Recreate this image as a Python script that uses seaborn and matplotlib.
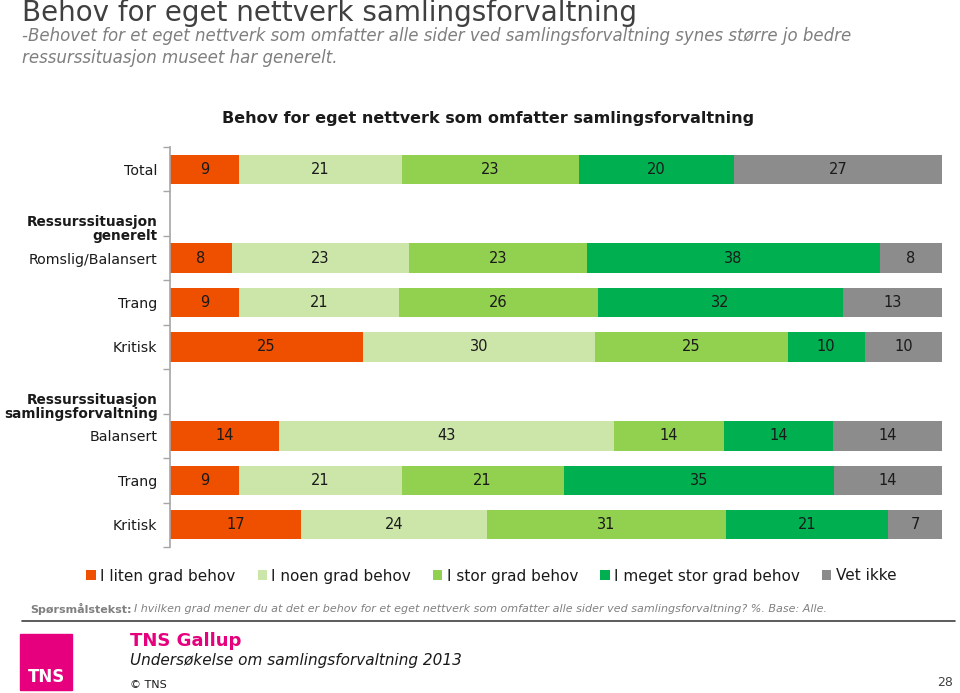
import numpy as np
import pandas as pd
import matplotlib
matplotlib.use("Agg")
import matplotlib.pyplot as plt
import seaborn as sns
from matplotlib.patches import Patch, Rectangle
from matplotlib.transforms import blended_transform_factory

# data
row_labels = ["Total", "", "Romslig/Balansert", "Trang", "Kritisk", "", "Balansert", "Trang", "Kritisk"]
series_names = ["I liten grad behov", "I noen grad behov", "I stor grad behov",
                "I meget stor grad behov", "Vet ikke"]
liten = [9, 0, 8, 9, 25, 0, 14, 9, 17]
noen = [21, 0, 23, 21, 30, 0, 43, 21, 24]
stor = [23, 0, 23, 26, 25, 0, 14, 21, 31]
meget = [20, 0, 38, 32, 10, 0, 14, 35, 21]
vet_ikke = [27, 0, 8, 13, 10, 0, 14, 14, 7]
colors = ["#EE5000", "#CCE6AA", "#92D050", "#00B050", "#8C8C8C"]

sns.set_style("white")
plt.rcParams['font.family'] = ['DejaVu Sans']

vals = np.array([liten, noen, stor, meget, vet_ikke], dtype=float)
totals = vals.sum(axis=0)
totals[totals == 0] = 1
shares = vals / totals * 100  # 100% stacked
cum = np.cumsum(shares, axis=0)

fig = plt.figure(figsize=(9.6, 6.93), dpi=100)
ax = fig.add_axes([170 / 960, 1 - 547 / 693, 772 / 960, 400 / 693])

slots = np.arange(len(row_labels))
# draw from the right-most cumulative segment to the left so earlier segments overlay
for k in range(len(series_names) - 1, -1, -1):
    df = pd.DataFrame({"slot": slots, "end": cum[k]})
    df = df[totals > 1]
    sns.barplot(data=df, x="end", y="slot", orient="h", native_scale=True,
                color=colors[k], saturation=1, width=0.66, ax=ax, linewidth=0)

# value labels
for k in range(len(series_names)):
    for i in slots:
        if vals[k, i] == 0:
            continue
        start = cum[k, i] - shares[k, i]
        ax.text(start + shares[k, i] / 2, i, f"{int(vals[k, i])}", ha="center", va="center",
                fontsize=10.5, color="#1a1a1a")

ax.set_xlim(0, 100)
ax.set_ylim(len(row_labels) - 0.5, -0.5)
ax.set_xlabel("")
ax.set_ylabel("")
ax.set_xticks([])
ax.set_yticks(slots)
ax.set_yticklabels(row_labels, fontsize=10.2, color="#1a1a1a")
ax.set_yticks(np.arange(-0.5, len(row_labels)), minor=True)
ax.tick_params(axis="y", which="major", left=False, length=0, pad=9)
ax.tick_params(axis="y", which="minor", left=True, length=5, color="#A6A6A6", direction="out", width=1)
for s in ["top", "right", "bottom"]:
    ax.spines[s].set_visible(False)
ax.spines["left"].set_color("#A6A6A6")
ax.spines["left"].set_linewidth(1.2)

tr = blended_transform_factory(ax.transAxes, ax.transData)
ax.text(-0.016, 1.35, "Ressurssituasjon\ngenerelt", transform=tr, ha="right", va="center",
        fontsize=9.8, fontweight="bold", color="#1a1a1a", linespacing=1.0, multialignment="right")
ax.text(-0.016, 5.35, "Ressurssituasjon\nsamlingsforvaltning", transform=tr, ha="right", va="center",
        fontsize=9.8, fontweight="bold", color="#1a1a1a", linespacing=1.0, multialignment="right")

# chart title
fig.text(488 / 960, 1 - 119 / 693, "Behov for eget nettverk som omfatter samlingsforvaltning",
         ha="center", va="center", fontsize=11.5, fontweight="bold", color="#1a1a1a")

# page title and subtitle
fig.text(22 / 960, 1 - 13 / 693, "Behov for eget nettverk samlingsforvaltning", ha="left", va="center",
         fontsize=20, color="#404040")
fig.text(22 / 960, 1 - 47 / 693,
         "-Behovet for et eget nettverk som omfatter alle sider ved samlingsforvaltning synes større jo bedre\n"
         "ressurssituasjon museet har generelt.", ha="left", va="center", fontsize=12,
         style="italic", color="#7F7F7F", linespacing=1.25)

# legend
handles = [Patch(facecolor=c, edgecolor="none") for c in colors]
fig.legend(handles, series_names, loc="center", bbox_to_anchor=(0.512, 1 - 576 / 693), ncol=5,
           frameon=False, fontsize=11, handlelength=0.6, handleheight=0.6, handletextpad=0.3,
           columnspacing=1.45, labelcolor="#1a1a1a")

# question text
q1 = fig.text(30 / 960, 1 - 609 / 693, "Spørsmålstekst:", ha="left", va="center",
              fontsize=8, fontweight="bold", color="#808080")
fig.canvas.draw()
bb = q1.get_window_extent()
fig.text(bb.x1 / fig.bbox.width + 0.003, 1 - 609 / 693,
         "I hvilken grad mener du at det er behov for et eget nettverk som omfatter alle sider ved "
         "samlingsforvaltning? %. Base: Alle.", ha="left", va="center", fontsize=8,
         style="italic", color="#808080")
fig.add_artist(plt.Line2D([22 / 960, 955 / 960], [1 - 621 / 693] * 2, color="#404040", lw=1.2))

# footer
fig.add_artist(Rectangle((20 / 960, 1 - 690 / 693), 52 / 960, 56 / 693, color="#E6007E",
                         transform=fig.transFigure))
fig.text(46 / 960, 1 - 677 / 693, "TNS", ha="center", va="center", fontsize=12,
         fontweight="bold", color="white")
fig.text(130 / 960, 1 - 641 / 693, "TNS Gallup", ha="left", va="center", fontsize=13,
         fontweight="bold", color="#E6007E")
fig.text(130 / 960, 1 - 660 / 693, "Undersøkelse om samlingsforvaltning 2013", ha="left",
         va="center", fontsize=11, style="italic", color="#1a1a1a")
fig.text(130 / 960, 1 - 685 / 693, "© TNS", ha="left", va="center", fontsize=8, color="#1a1a1a")
fig.text(945 / 960, 1 - 683 / 693, "28", ha="center", va="center", fontsize=9, color="#404040")

fig.savefig("out.png", dpi=100)
plt.close()
